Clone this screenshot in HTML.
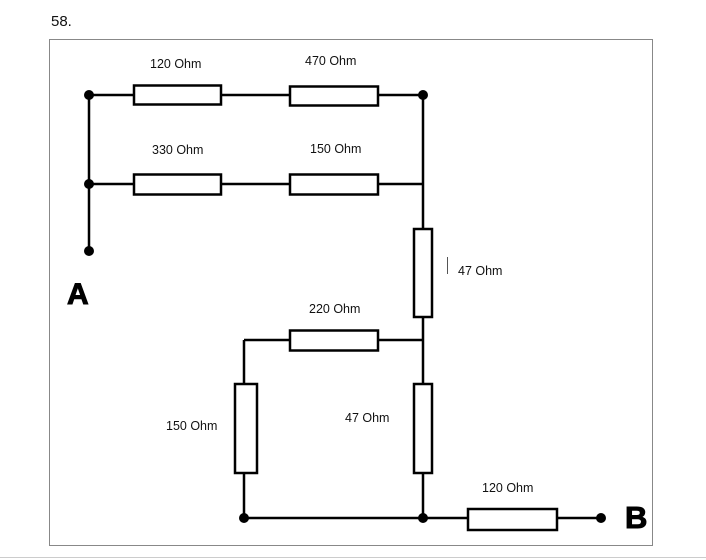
<!DOCTYPE html>
<html><head><meta charset="utf-8"><style>
html,body{margin:0;padding:0;background:#fff;}
svg{display:block;}
text{font-family:"Liberation Sans",sans-serif;}
</style></head><body>
<svg width="706" height="560" viewBox="0 0 706 560" xmlns="http://www.w3.org/2000/svg">
<rect width="706" height="560" fill="#fff"/>
<text x="51" y="26" font-size="15" fill="#111">58.</text>
<rect x="49.5" y="39.5" width="603" height="506" fill="none" stroke="#888" stroke-width="1"/>
<line x1="0" y1="557.5" x2="706" y2="557.5" stroke="#ccc" stroke-width="1"/>
<g stroke="#000" stroke-width="2.5" fill="none">
<line x1="89" y1="95" x2="423" y2="95"/>
<line x1="89" y1="184" x2="423" y2="184"/>
<line x1="89" y1="95" x2="89" y2="251"/>
<line x1="423" y1="95" x2="423" y2="518"/>
<line x1="244" y1="340" x2="423" y2="340"/>
<line x1="244" y1="340" x2="244" y2="518"/>
<line x1="244" y1="518" x2="601" y2="518"/>
</g>
<g stroke="#000" stroke-width="2.5" fill="#fff">
<rect x="134" y="85.5" width="87" height="19"/>
<rect x="290" y="86.5" width="88" height="19"/>
<rect x="134" y="174.5" width="87" height="20"/>
<rect x="290" y="174.5" width="88" height="20"/>
<rect x="414" y="229" width="18" height="88"/>
<rect x="290" y="330.5" width="88" height="20"/>
<rect x="235" y="384" width="22" height="89"/>
<rect x="414" y="384" width="18" height="89"/>
<rect x="468" y="509" width="89" height="21"/>
</g>
<g fill="#000">
<circle cx="89" cy="95" r="5"/>
<circle cx="423" cy="95" r="5"/>
<circle cx="89" cy="184" r="5"/>
<circle cx="89" cy="251" r="5"/>
<circle cx="244" cy="518" r="5"/>
<circle cx="423" cy="518" r="5"/>
<circle cx="601" cy="518" r="5"/>
</g>
<line x1="447.5" y1="257" x2="447.5" y2="274" stroke="#555" stroke-width="1"/>
<g font-size="12.5" fill="#111">
<text x="150" y="68">120 Ohm</text>
<text x="305" y="65">470 Ohm</text>
<text x="152" y="154">330 Ohm</text>
<text x="310" y="153">150 Ohm</text>
<text x="458" y="275">47 Ohm</text>
<text x="309" y="313">220 Ohm</text>
<text x="166" y="430">150 Ohm</text>
<text x="345" y="422">47 Ohm</text>
<text x="482" y="492">120 Ohm</text>
</g>
<text x="67" y="304" font-size="30" font-weight="bold" fill="#000" stroke="#000" stroke-width="1">A</text>
<text x="625" y="528" font-size="31" font-weight="bold" fill="#000" stroke="#000" stroke-width="1">B</text>
</svg>
</body></html>
